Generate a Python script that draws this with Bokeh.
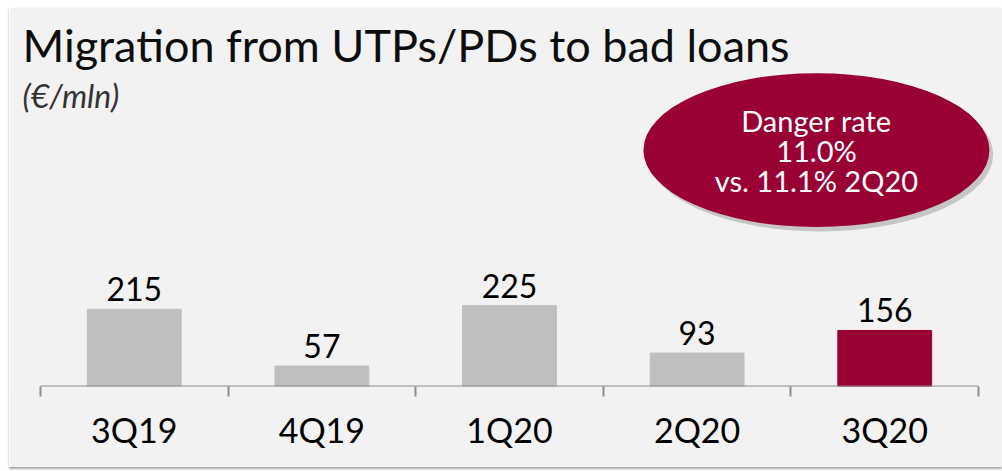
from bokeh.plotting import figure
from bokeh.models import Range1d, FixedTicker, Label, ColumnDataSource
from bokeh.core.properties import value
from bokeh.embed import file_html
from bokeh.resources import INLINE

categories = ["3Q19", "4Q19", "1Q20", "2Q20", "3Q20"]
migration = [215, 57, 225, 93, 156]
bar_colors = ["#BFBFBF", "#BFBFBF", "#BFBFBF", "#BFBFBF", "#990033"]
title_text = "Migration from UTPs/PDs to bad loans"
subtitle_text = "(€/mln)"
callout_lines = ["Danger rate", "11.0%", "vs. 11.1% 2Q20"]

BG = "#F2F2F2"
FONT = "Lato"
Y_END = 1055

n = len(categories)
centers = [i + 0.5 for i in range(n)]
bounds = [float(i) for i in range(n + 1)]

src = ColumnDataSource(dict(x=centers, top=migration, color=bar_colors,
                            label=[str(v) for v in migration]))

p = figure(width=993, height=460, output_backend="svg", toolbar_location=None,
           x_range=Range1d(-0.149, n + 0.117), y_range=Range1d(0, Y_END),
           min_border_top=0, min_border_left=3, min_border_right=2,
           min_border_bottom=81)
p.background_fill_color = BG
p.border_fill_color = BG
p.outline_line_color = None
p.grid.visible = False
p.yaxis.visible = False
p.styles = {"margin-left": "9px", "margin-top": "7px",
            "box-shadow": "0 2px 2px rgba(0,0,0,0.35)"}

p.vbar(x="x", top="top", width=0.5, bottom=0, color="color", source=src)
p.text(x="x", y="top", text="label", source=src, text_align="center",
       text_baseline="middle", y_offset=-20,
       text_font=value(FONT), text_font_size="32px", text_color="#000000")

# axis baseline spanning the categories
p.segment(x0=[0], x1=[n], y0=[0], y1=[0], line_color="#8C8C8C", line_width=2)

ax = p.xaxis[0]
ax.ticker = FixedTicker(ticks=centers, minor_ticks=bounds)
ax.major_label_overrides = {c: lab for c, lab in zip(centers, categories)}
ax.axis_line_color = None
ax.major_tick_line_color = None
ax.major_tick_in = 0
ax.major_tick_out = 0
ax.minor_tick_in = 0
ax.minor_tick_out = 10
ax.minor_tick_line_color = "#8C8C8C"
ax.minor_tick_line_width = 2
ax.major_label_standoff = 12
ax.major_label_text_font = FONT
ax.major_label_text_font_size = "34px"
ax.major_label_text_color = "#000000"

# callout ellipse with shadow
ex, ey = 4.136, 658
p.ellipse(x=[ex + 0.02], y=[ey - 12], width=[346], height=[154],
          width_units="screen", height_units="screen",
          fill_color="#000000", fill_alpha=0.18, line_color=None)
p.ellipse(x=[ex], y=[ey], width=[346], height=[154],
          width_units="screen", height_units="screen",
          fill_color="#990033", line_color=None)
p.text(x=[ex] * 3, y=[ey] * 3, text=callout_lines, y_offset=[-30, 0, 30],
       text_align="center", text_baseline="middle", text_color="#FFFFFF",
       text_font=value(FONT), text_font_size="29px")

p.add_layout(Label(x=0, y=Y_END, x_offset=-18, y_offset=-37, text=title_text,
                   text_font=FONT, text_font_size="45px", text_color="#0D0D0D",
                   text_baseline="middle"))
p.add_layout(Label(x=0, y=Y_END, x_offset=-18, y_offset=-88, text=subtitle_text,
                   text_font=FONT, text_font_style="italic", text_font_size="32px",
                   text_color="#333333", text_baseline="middle"))

open("out.html", "w").write(file_html(p, INLINE))
